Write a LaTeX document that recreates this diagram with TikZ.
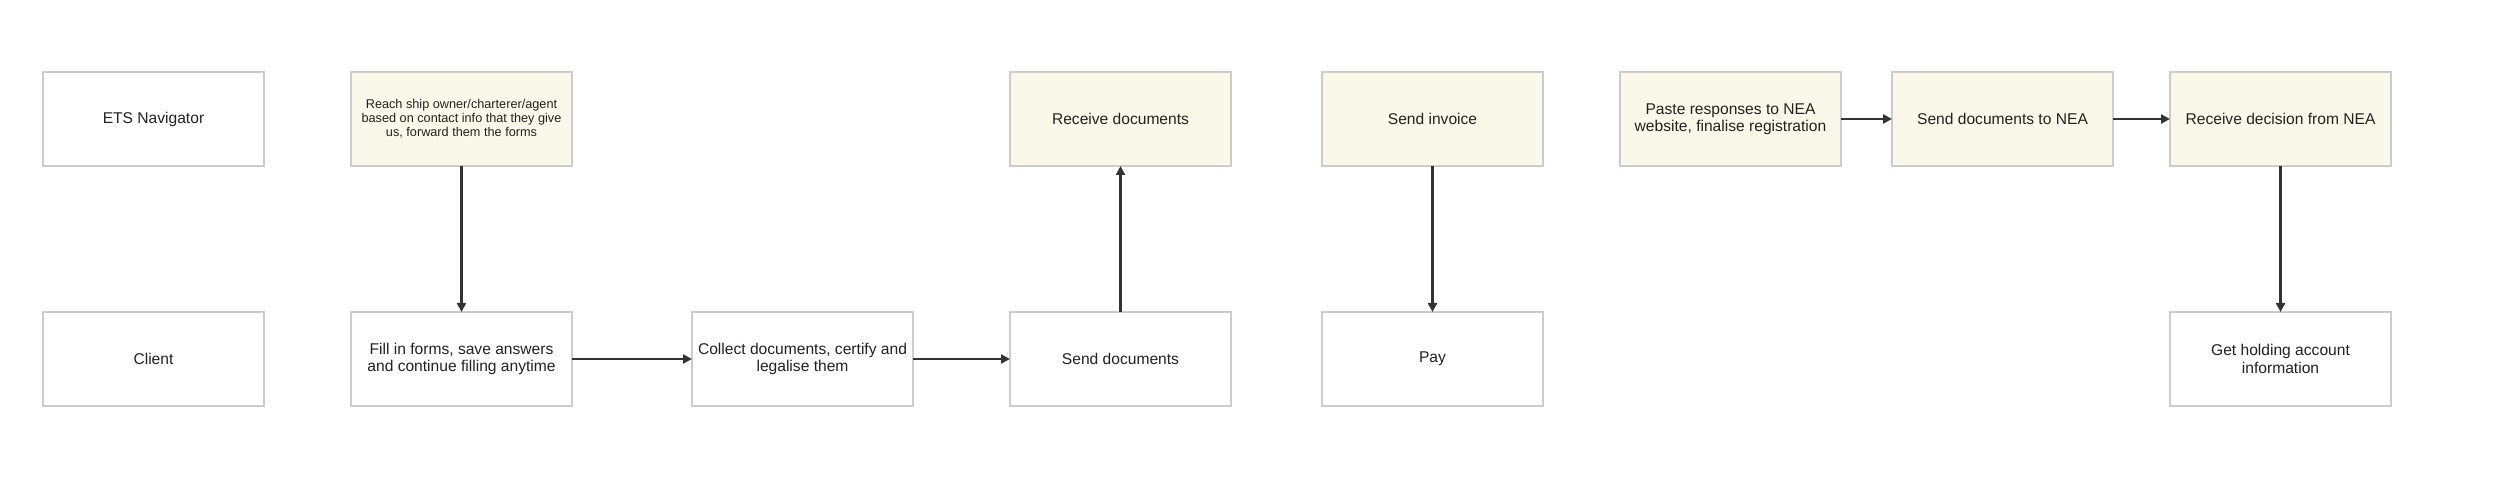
\documentclass[tikz,border=0pt]{standalone}
\usepackage{fontspec}
\setmainfont{Liberation Sans}
\usetikzlibrary{positioning,arrows.meta}
\definecolor{boxline}{HTML}{CCCCCC}
\definecolor{boxfill}{HTML}{FAF8E8}
\definecolor{arrcol}{HTML}{333333}
\definecolor{txtcol}{HTML}{222222}

\begin{document}
\begin{tikzpicture}[
    box/.style={rectangle, draw=boxline, line width=1.3pt, fill=white, text=txtcol,
                minimum width=221pt, minimum height=94pt, inner sep=0pt, outer sep=0pt,
                align=center, font=\fontsize{15.6}{17.4}\selectfont},
    ours/.style={box, fill=boxfill},
    arr/.style={-{Triangle[length=9pt,width=9pt]}, line width=2.6pt, draw=arrcol}
]
    \useasboundingbox (0,0) rectangle (2502pt,-502pt);

    % top row: ETS Navigator
    \node[box] (nav) at (153.5pt,-119pt) {ETS Navigator};
    \node[ours, right=87pt of nav, font=\fontsize{12.7}{13.8}\selectfont] (reach)
        {Reach ship owner/charterer/agent\\based on contact info that they give\\us, forward them the forms};
    \node[ours, right=438pt of reach] (recv)     {Receive documents};
    \node[ours, right=91pt of recv]   (invoice)  {Send invoice};
    \node[ours, right=77pt of invoice](paste)    {Paste responses to NEA\\website, finalise registration};
    \node[ours, right=51pt of paste]  (tonea)    {Send documents to NEA};
    \node[ours, right=57pt of tonea]  (decision) {Receive decision from NEA};

    % bottom row: client
    \node[box, below=146pt of nav]      (client)  {Client};
    \node[box, below=146pt of reach]    (fill)    {Fill in forms, save answers\\and continue filling anytime};
    \node[box, right=120pt of fill]     (collect) {Collect documents, certify and\\legalise them};
    \node[box, below=146pt of recv]     (send)    {Send documents};
    \node[box, below=146pt of invoice]  (pay)     {Pay};
    \node[box, below=146pt of decision] (holding) {Get holding account\\information};

    \draw[arr] (reach)    -- (fill);
    \draw[arr] (fill)     -- (collect);
    \draw[arr] (collect)  -- (send);
    \draw[arr] (send)     -- (recv);
    \draw[arr] (invoice)  -- (pay);
    \draw[arr] (paste)    -- (tonea);
    \draw[arr] (tonea)    -- (decision);
    \draw[arr] (decision) -- (holding);
\end{tikzpicture}
\end{document}
